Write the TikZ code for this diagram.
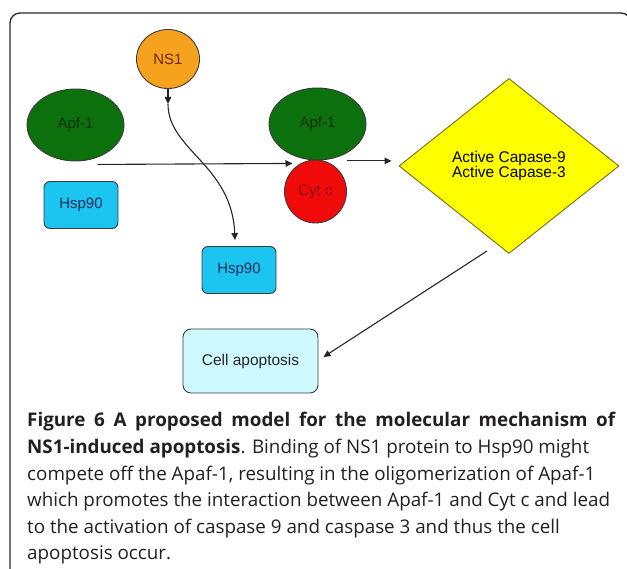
\documentclass[tikz,border=0pt]{standalone}
\usepackage{fontspec}
\setmainfont{Open Sans}
\newfontfamily\diagfont{Liberation Sans}
\usetikzlibrary{shapes.geometric,arrows.meta,calc}
\definecolor{nsfill}{RGB}{247,162,30}
\definecolor{nstext}{RGB}{110,40,10}
\definecolor{apffill}{RGB}{12,112,12}
\definecolor{apftext}{RGB}{10,50,10}
\definecolor{cytfill}{RGB}{240,10,10}
\definecolor{cyttext}{RGB}{140,10,10}
\definecolor{hspfill}{RGB}{28,196,240}
\definecolor{hsptext}{RGB}{20,45,90}
\definecolor{cellfill}{RGB}{206,250,255}
\definecolor{diafill}{RGB}{255,255,0}
\definecolor{diaborder}{RGB}{120,110,20}
\definecolor{captext}{RGB}{35,31,32}
\definecolor{outline}{RGB}{60,60,60}
\tikzset{
  shapebase/.style={draw=outline, line width=0.9pt, inner sep=0pt, font=\diagfont\fontsize{15}{17}\selectfont},
  ellip/.style={shapebase, ellipse},
  rbox/.style={shapebase, rectangle, rounded corners=6pt},
  arr/.style={draw=black!85, line width=1.1pt, -{Triangle[length=7pt,width=6.5pt]}},
  capline/.style={anchor=base west, inner sep=0pt, text=captext, font=\fontsize{18.8}{23}\selectfont},
  framestyle/.style={draw=black!85, line width=1.3pt, rounded corners=10pt}
}
\begin{document}
\begin{tikzpicture}[x=1pt,y=-1pt]
\useasboundingbox (0,0) rectangle (627,569);
\begin{scope}
\clip (0,0) rectangle (627,569);
\draw[framestyle] (10,13) rectangle (631,590);
\end{scope}
% nodes
\node[ellip, fill=nsfill, text=nstext, minimum width=63pt, minimum height=59pt] (ns1) at (168,59) {NS1};
\node[ellip, fill=apffill, text=apftext, minimum width=97pt, minimum height=72pt] (apfL) at (75.5,125) {Apf-1};
\node[rbox, fill=hspfill, text=hsptext, minimum width=74pt, minimum height=47pt] (hspL) at (81,205) {Hsp90};
\node[rbox, fill=hspfill, text=hsptext, minimum width=74pt, minimum height=47pt] (hspR) at (239,270) {Hsp90};
\node[ellip, fill=apffill, text=apftext, minimum width=97pt, minimum height=72pt] (apfR) at (317.5,124) {Apf-1};
\node[ellip, fill=cytfill, text=cyttext, minimum width=62pt, minimum height=63pt] (cyt) at (315.5,191.5) {Cyt c};
\node[shapebase, diamond, fill=diafill, draw=diaborder, minimum width=220pt, minimum height=175pt, align=center, font=\diagfont\fontsize{15.5}{15.5}\selectfont] (dia) at (509,166) {Active Capase-9\\Active Capase-3};
\node[rbox, fill=cellfill, text=black!85, rounded corners=8pt, minimum width=135pt, minimum height=64pt, font=\diagfont\fontsize{15.5}{17}\selectfont] (cell) at (250.5,361) {Cell apoptosis};
% connectors
\coordinate (a1) at ($(apfL.south)+(22,3)$);
\coordinate (a2) at ($(apfR.south)+(-25,3)$);
\draw[arr] (a1) -- (a2);
\coordinate (b1) at ($(cyt.north east)+(0,-8)$);
\draw[arr, shorten >=7pt] (b1 -| cyt.east) -- (b1 -| dia.west);
\draw[arr] (ns1.south) -- ++(0,15) coordinate (c1);
\coordinate (c2) at ($(hspR.north)+(-4,-6)$);
\draw[arr] (c1) .. controls (168,150) and (232,165) .. (c2);
\coordinate (d1) at (487,251);
\coordinate (d2) at ($(cell.east)+(5,-4)$);
\draw[arr] (d1) -- (d2);
% caption
\node[capline] (cap1) at (27,427) {\makebox[588pt][s]{\bfseries Figure 6 A proposed model for the molecular mechanism of}};
\node[capline] (cap2) at (27,453.5) {{\bfseries NS1-induced apoptosis}. Binding of NS1 protein to Hsp90 might};
\node[capline] (cap3) at (27,480) {compete off the Apaf-1, resulting in the oligomerization of Apaf-1};
\node[capline] (cap4) at (27,506.5) {which promotes the interaction between Apaf-1 and Cyt c and lead};
\node[capline] (cap5) at (27,533) {to the activation of caspase 9 and caspase 3 and thus the cell};
\node[capline] (cap6) at (27,559.5) {apoptosis occur.};
\end{tikzpicture}
\end{document}
